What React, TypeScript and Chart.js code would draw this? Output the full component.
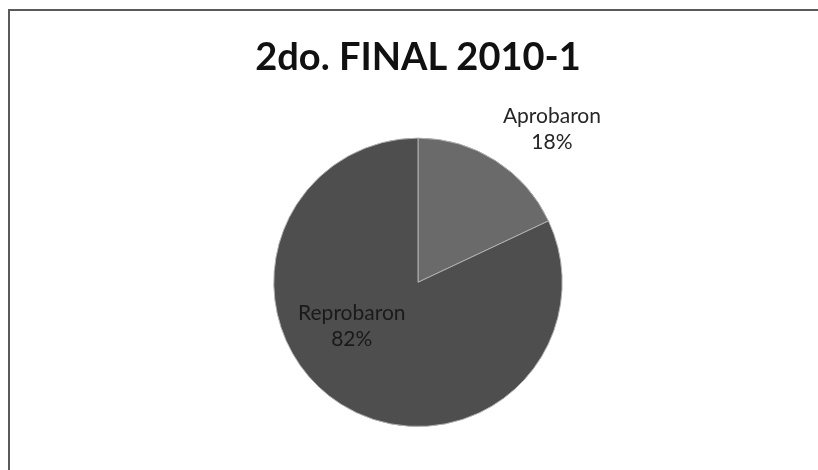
import React, { useEffect, useRef } from "react";
import { Chart, registerables } from "chart.js";

Chart.register(...registerables);

// Exam results of the second final, 2010-1
const categories = ["Aprobaron", "Reprobaron"];
const counts = [18, 82];
const sliceColors = ["#6a6a6a", "#4e4e4e"];
const chartTitle = "2do. FINAL 2010-1";

// Placement of each slice label: angle shift from the slice middle (degrees)
// and distance from the centre as a fraction of the radius.
const labelAngleShift = [8.8, 24.2];
const labelRadiusFactor = [1.41, 0.55];
const labelColors = ["#262626", "#1a1a1a"];

const sliceLabels = {
  id: "sliceLabels",
  afterDatasetsDraw(chart: any) {
    const ctx = chart.ctx;
    const meta = chart.getDatasetMeta(0);
    const data = chart.data.datasets[0].data as number[];
    const total = data.reduce((a, b) => a + b, 0);
    ctx.save();
    ctx.font = "21px Lato";
    ctx.textAlign = "center";
    ctx.textBaseline = "middle";
    const lineH = 26;
    meta.data.forEach((arc: any, i: number) => {
      const p = arc.getProps(["x", "y", "startAngle", "endAngle", "outerRadius"], true);
      const mid = (p.startAngle + p.endAngle) / 2 + (labelAngleShift[i] * Math.PI) / 180;
      const d = p.outerRadius * labelRadiusFactor[i];
      const cx = p.x + Math.cos(mid) * d;
      const cy = p.y + Math.sin(mid) * d;
      const pct = Math.round((data[i] / total) * 100) + "%";
      ctx.fillStyle = labelColors[i];
      ctx.fillText(String(chart.data.labels[i]), cx, cy - lineH / 2);
      ctx.fillText(pct, cx, cy + lineH / 2);
    });
    ctx.restore();
  },
};

export default function App() {
  const canvasRef = useRef<HTMLCanvasElement | null>(null);

  useEffect(() => {
    if (!canvasRef.current) return;
    const chart = new Chart(canvasRef.current, {
      type: "pie",
      data: {
        labels: categories,
        datasets: [
          {
            data: counts,
            backgroundColor: sliceColors,
            borderColor: "#b0b0b0",
            borderWidth: 1,
            hoverOffset: 0,
          },
        ],
      },
      options: {
        animation: false,
        responsive: false,
        layout: { padding: { left: 18, right: 0, top: 0, bottom: 43 } },
        plugins: {
          legend: { display: false },
          tooltip: { enabled: false },
          title: {
            display: true,
            text: chartTitle,
            color: "#111111",
            font: { family: "Lato", size: 38, weight: "bold" },
            padding: { top: 35, bottom: 57 },
          },
        },
      },
      plugins: [sliceLabels],
    });
    return () => chart.destroy();
  }, []);

  return (
    <div
      style={{
        position: "fixed",
        left: 0,
        top: 0,
        width: 818,
        height: 470,
        background: "#ffffff",
        overflow: "hidden",
      }}
    >
      <div
        style={{
          position: "absolute",
          left: 8,
          top: 9,
          right: 0,
          bottom: 0,
          borderLeft: "2px solid #5a5a5a",
          borderTop: "2px solid #5a5a5a",
        }}
      />
      <canvas
        ref={canvasRef}
        width={818}
        height={470}
        style={{ position: "absolute", left: 0, top: 0 }}
      />
    </div>
  );
}
